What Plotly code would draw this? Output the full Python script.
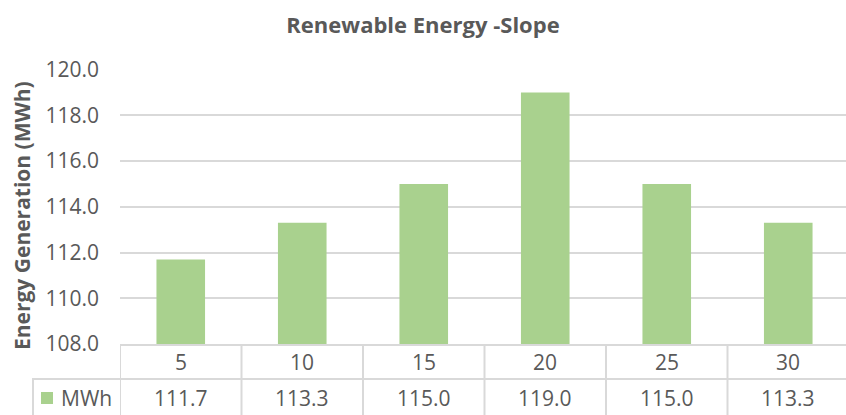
import plotly.graph_objects as go

# Slope angle (degrees) and generated energy (MWh)
slopes = ["5", "10", "15", "20", "25", "30"]
mwh = [111.7, 113.3, 115.0, 119.0, 115.0, 113.3]
series_name = "MWh"
y_ticks = [108, 110, 112, 114, 116, 118, 120]

BAR_COLOR = "#A9D18E"
TEXT_COLOR = "#595959"
GRID_COLOR = "#D9D9D9"
FONT = "Open Sans"
CELL_FONT = dict(size=21, color=TEXT_COLOR, family=FONT)

W, H = 846, 415
M_L, M_R, M_T, M_B = 120, 0, 69, 71
plot_h = H - M_T - M_B
plot_w = W - M_L - M_R


def py(pixel_y):
    """Pixel row -> paper y."""
    return (H - M_B - pixel_y) / plot_h


def px(pixel_x):
    """Pixel column -> paper x."""
    return (pixel_x - M_L) / plot_w


fig = go.Figure(
    go.Bar(
        x=list(range(len(slopes))),
        y=mwh,
        marker=dict(color=BAR_COLOR, line=dict(width=0)),
        name=series_name,
        showlegend=False,
    )
)

# data table beneath the plot: slope row and value row
row1_y, row2_y = py(362), py(398)
line_mid, line_bot = py(379), py(416)
shapes = []
annotations = []
n = len(slopes)
for i, (s, v) in enumerate(zip(slopes, mwh)):
    annotations.append(dict(x=i, y=row1_y, xref="x", yref="paper", text=s,
                            xanchor="center", yanchor="middle",
                            showarrow=False, font=CELL_FONT))
    annotations.append(dict(x=i, y=row2_y, xref="x", yref="paper", text=f"{v:.1f}",
                            xanchor="center", yanchor="middle",
                            showarrow=False, font=CELL_FONT))
for i in range(n + 1):
    shapes.append(dict(type="line", xref="x", yref="paper", x0=i - 0.5, x1=i - 0.5,
                       y0=0, y1=line_bot, line=dict(color=GRID_COLOR, width=2)))
# horizontal rule between rows, starting at the legend-key cell
shapes.append(dict(type="line", xref="paper", yref="paper", x0=px(32), x1=1.02,
                   y0=line_mid, y1=line_mid, line=dict(color=GRID_COLOR, width=2)))
# left border of the legend-key cell
shapes.append(dict(type="line", xref="paper", yref="paper", x0=px(33), x1=px(33),
                   y0=line_mid, y1=line_bot, line=dict(color=GRID_COLOR, width=2)))
# legend key
shapes.append(dict(type="rect", xref="paper", yref="paper", x0=px(41), x1=px(53),
                   y0=py(404), y1=py(392), fillcolor=BAR_COLOR, line=dict(width=0)))
annotations.append(dict(x=px(59), y=row2_y, xref="paper", yref="paper", text=series_name,
                        xanchor="left", yanchor="middle", showarrow=False, font=CELL_FONT))

# y-axis title
annotations.append(dict(x=px(22), y=py(216), xref="paper", yref="paper",
                        text="<b>Energy Generation (MWh)</b>", textangle=-90,
                        xanchor="center", yanchor="middle",
                        showarrow=False, font=dict(size=21, color=TEXT_COLOR, family=FONT)))

fig.update_layout(
    width=W, height=H,
    margin=dict(l=M_L, r=M_R, t=M_T, b=M_B),
    paper_bgcolor="white", plot_bgcolor="white",
    bargap=0.6,
    title=dict(text="<b>Renewable Energy -Slope</b>", x=0.5, xref="container", xanchor="center",
               y=1 - 25 / H, yref="container", yanchor="middle",
               font=dict(size=22, color=TEXT_COLOR, family=FONT)),
    xaxis=dict(range=[-0.5, -0.5 + plot_w / 121.5], showticklabels=False, showgrid=False,
               zeroline=False, showline=True, linecolor=GRID_COLOR, linewidth=2, ticks=""),
    yaxis=dict(range=[108, 120.03], tickvals=y_ticks, tickformat=".1f",
               showgrid=True, gridcolor=GRID_COLOR, gridwidth=2, zeroline=False,
               showline=False, ticks="", ticklabelstandoff=20,
               tickfont=dict(size=21, color=TEXT_COLOR, family=FONT)),
    shapes=shapes,
    annotations=annotations,
)

fig.write_html("out.html")
